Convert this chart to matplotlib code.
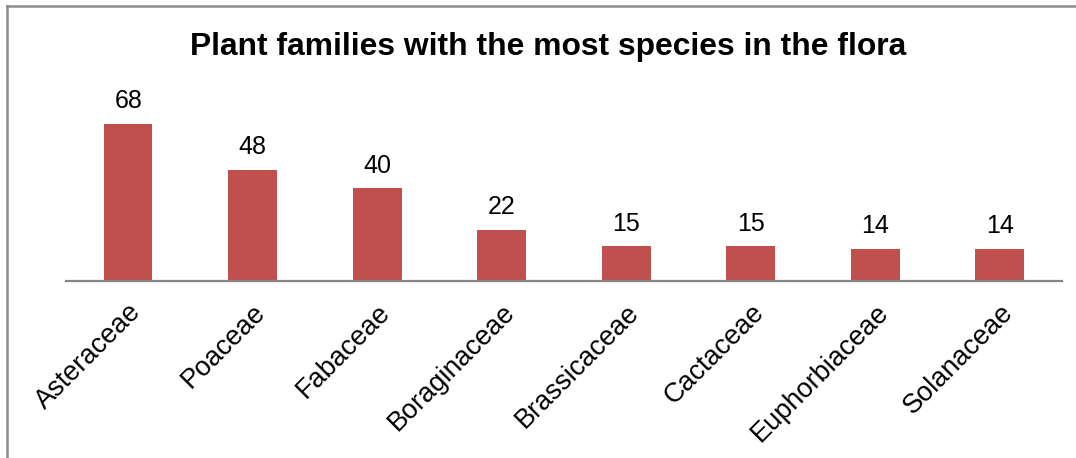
import numpy as np
import matplotlib
matplotlib.use("Agg")
import matplotlib.pyplot as plt
from matplotlib.lines import Line2D

plt.rcParams['font.family'] = ['Liberation Sans', 'DejaVu Sans']

# Data ---------------------------------------------
families = ["Asteraceae", "Poaceae", "Fabaceae", "Boraginaceae",
            "Brassicaceae", "Cactaceae", "Euphorbiaceae", "Solanaceae"]
species = [68, 48, 40, 22, 15, 15, 14, 14]

# Figure -------------------------------------------
fig = plt.figure(figsize=(10.76, 4.58), dpi=100)
ax = fig.add_axes([0.0613, 0.3865, 0.9257, 0.4039])

x = np.arange(len(families))
bars = ax.bar(x, species, width=0.39, color="#C0504D", zorder=2)

for xi, v in zip(x, species):
    ax.text(xi, v + 4.6, str(v), ha="center", va="bottom", fontsize=18)

ax.set_xlim(-0.5, len(families) - 0.5)
ax.set_ylim(0, 80)
ax.set_xticks(x)
ax.set_xticklabels(families, rotation=45, ha="right", va="top",
                   rotation_mode="anchor", fontsize=19.5)
ax.tick_params(axis="x", length=0, pad=13)
ax.set_yticks([])

for side in ["top", "right", "left"]:
    ax.spines[side].set_visible(False)
ax.spines["bottom"].set_color("#868686")
ax.spines["bottom"].set_linewidth(1.6)

fig.text(0.509, 0.897, "Plant families with the most species in the flora",
         ha="center", va="center", fontsize=22.9, fontweight="bold")

# outer frame (top and left edges)
fig.add_artist(Line2D([0.0065, 1.0], [0.986, 0.986], color="#8c8c8c", lw=1.8,
                      transform=fig.transFigure))
fig.add_artist(Line2D([0.0065, 0.0065], [0.0, 0.986], color="#8c8c8c", lw=1.8,
                      transform=fig.transFigure))

fig.savefig("out.png", dpi=100)
